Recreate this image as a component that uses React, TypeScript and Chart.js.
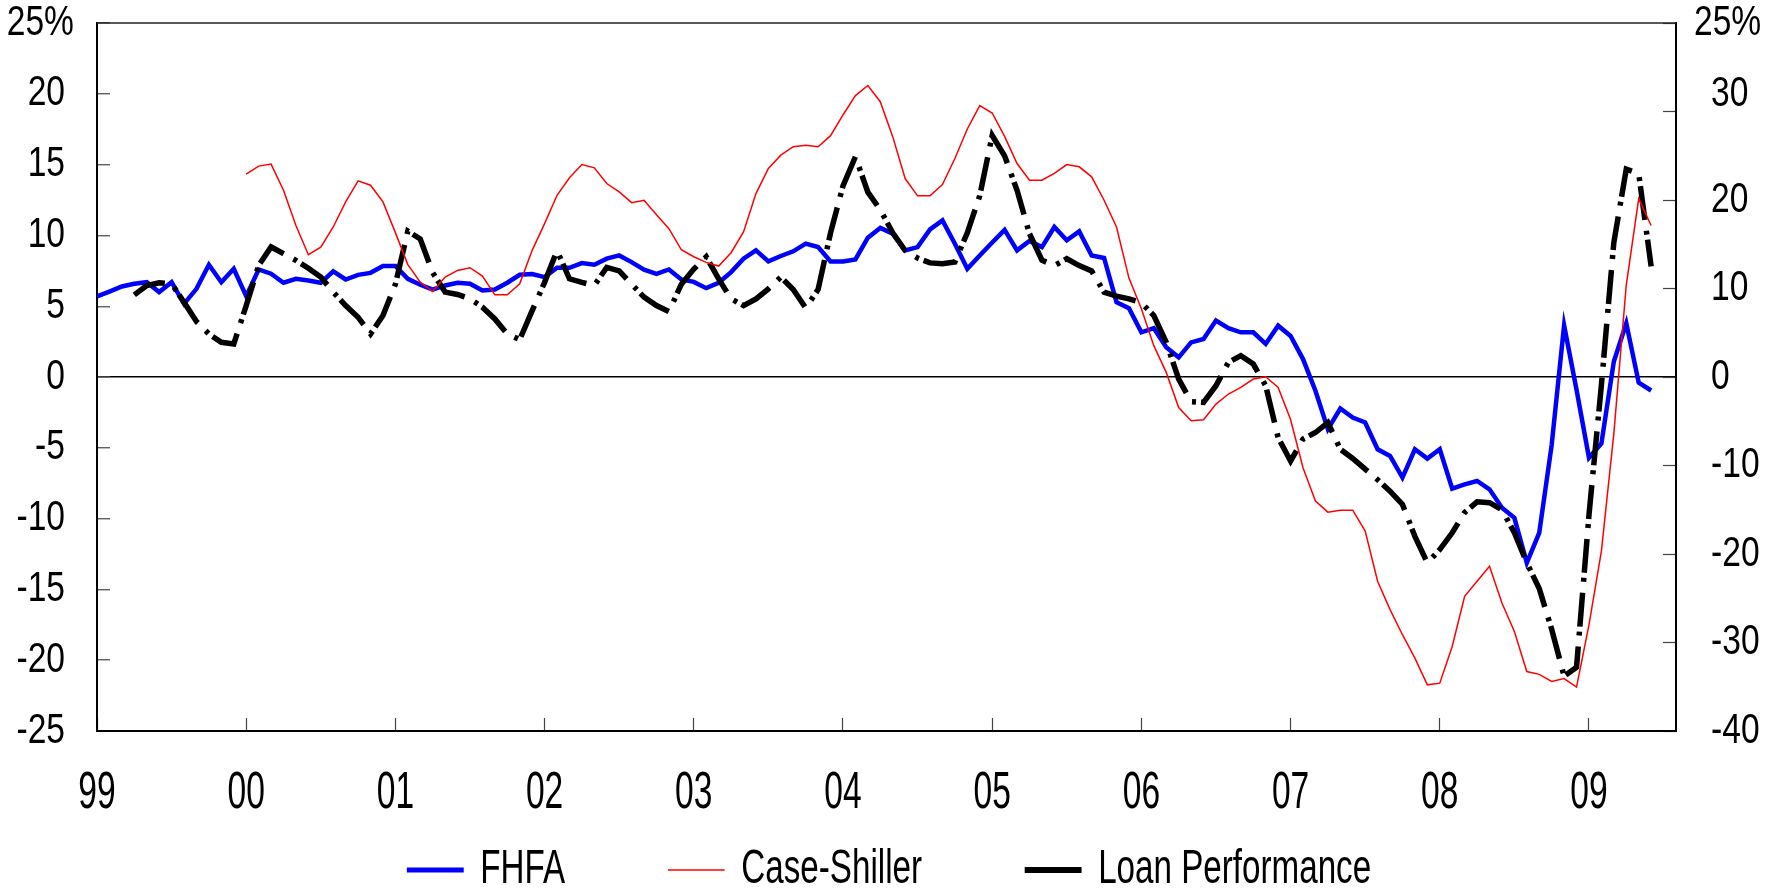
import React, { useEffect, useRef } from "react";
import { Chart, registerables, LinearScale } from "chart.js";

// Linear scale whose tick labels can be condensed / stretched (the reference uses a tall condensed face)
class StretchLinearScale extends LinearScale {
  static id = "stretchLinear";
  drawLabels(chartArea: any) {
    const opts: any = this.options;
    const st = opts.labelStretch || {};
    const sx = st.x ?? 1;
    const sy = st.y ?? 1;
    const dx = st.dx ?? 0;
    const dy = st.dy ?? 0;
    const offsets = st.offsets || {};
    const ctx = this.ctx;
    const items: any[] = (this as any).getLabelItems(chartArea);
    for (const item of items) {
      const o = item.options;
      const text = Array.isArray(item.label) ? item.label.join(" ") : String(item.label);
      const off = offsets[text] || [0, 0];
      ctx.save();
      ctx.translate(o.translation[0] + dx + off[0], o.translation[1] + dy + off[1]);
      if (o.rotation) ctx.rotate(o.rotation);
      ctx.scale(sx, sy);
      ctx.font = item.font.string;
      ctx.fillStyle = o.color;
      ctx.textAlign = o.textAlign;
      ctx.textBaseline = o.textBaseline;
      ctx.fillText(text, 0, item.textOffset);
      ctx.restore();
    }
  }
}

Chart.register(...registerables, StretchLinearScale);

// Monthly observations, index 0 = Jan 1999
const YEAR_LABELS = ["99", "00", "01", "02", "03", "04", "05", "06", "07", "08", "09"];
const X_MIN = 0;
const X_MAX = 127;

const FHFA_START = 0;
const FHFA = [
  5.69, 6.04, 6.4, 6.59, 6.7, 6.0, 6.7, 5.17, 6.23, 7.93, 6.7, 7.65,
  5.71, 7.6, 7.3, 6.66, 6.94, 6.82, 6.66, 7.46, 6.89, 7.22, 7.36, 7.84,
  7.84, 6.94, 6.52, 6.18, 6.47, 6.66, 6.59, 6.12, 6.18, 6.66, 7.22, 7.27,
  7.06, 7.72, 7.72, 8.05, 7.93, 8.36, 8.59, 8.12, 7.58, 7.29, 7.6, 6.89,
  6.72, 6.28, 6.66, 7.41, 8.36, 8.95, 8.17, 8.55, 8.88, 9.42, 9.18, 8.17,
  8.17, 8.31, 9.84, 10.53, 10.13, 8.95, 9.18, 10.43, 11.07, 9.42, 7.65, 8.59,
  9.5, 10.4, 8.95, 9.61, 9.18, 10.6, 9.66, 10.29, 8.59, 8.41, 5.29, 4.86,
  3.16, 3.45, 2.1, 1.39, 2.45, 2.69, 3.99, 3.45, 3.16, 3.16, 2.34, 3.63,
  2.9, 1.27, -0.97, -3.68, -2.22, -2.86, -3.21, -5.1, -5.57, -7.1, -5.1, -5.76,
  -5.1, -7.88, -7.58, -7.34, -7.93, -9.23, -9.94, -13.12, -11.0, -4.8, 3.65, -0.9,
  -5.7, -4.7, 1.1, 3.8, -0.4, -0.95,
];

const CASE_SHILLER_START = 12;
const CASE_SHILLER = [
  14.33, 14.9, 15.04, 13.2, 10.7, 8.64, 9.18, 10.6, 12.37, 13.86, 13.55, 12.37,
  10.2, 7.94, 6.7, 6.04, 7.06, 7.53, 7.72, 7.13, 5.81, 5.81, 6.59, 8.95,
  10.84, 12.84, 14.07, 15.01, 14.78, 13.67, 13.08, 12.32, 12.49, 11.47, 10.48, 8.99,
  8.5, 8.1, 7.84, 8.78, 10.25, 12.96, 14.73, 15.67, 16.27, 16.38, 16.27, 17.05,
  18.51, 19.88, 20.59, 19.45, 16.98, 14.02, 12.8, 12.8, 13.6, 15.44, 17.52, 19.17,
  18.65, 17.0, 15.08, 13.9, 13.9, 14.38, 15.01, 14.85, 14.14, 12.49, 10.6, 6.99,
  4.82, 2.22, 0.33, -2.15, -3.09, -3.02, -1.91, -1.2, -0.73, -0.14, 0.02, -0.73,
  -3.0, -6.4, -8.76, -9.54, -9.4, -9.4, -10.88, -14.42, -16.43, -18.2, -19.85, -21.74,
  -21.62, -19.03, -15.49, -14.42, -13.36, -15.96, -17.97, -20.8, -21.0, -21.5, -21.3, -21.9,
  -17.5, -12.3, -4.0, 6.5, 12.6, 10.7,
];

// right-hand axis
const LOAN_PERFORMANCE_START = 3;
const LOAN_PERFORMANCE = [
  9.29, 10.35, 10.65, 10.54, 8.46, 6.27, 4.87, 3.93, 3.74,
  8.08, 12.6, 14.7, 13.94, 13.18, 12.3, 11.3, 9.6, 8.08, 6.76, 4.87, 6.95,
  10.5, 16.5, 15.6, 11.8, 9.6, 9.33, 8.84, 7.9, 6.57, 4.87, 4.23, 7.51,
  10.7, 14.3, 11.1, 10.7, 10.35, 12.4, 12.0, 10.5, 9.03, 8.08, 7.4, 10.5,
  12.2, 13.6, 11.1, 8.84, 8.08, 8.84, 9.97, 11.3, 9.9, 7.8, 9.9, 16.3,
  21.6, 24.9, 20.9, 18.9, 16.3, 14.3, 13.45, 12.9, 12.8, 13.0, 16.3, 20.5,
  27.3, 25.0, 21.1, 16.2, 13.2, 12.6, 13.37, 12.6, 12.0, 9.6, 9.14, 8.84,
  8.39, 6.95, 3.93, -0.23, -2.8, -2.87, -0.98, 1.66, 2.42, 1.47, -0.98, -6.84,
  -9.5, -7.0, -6.27, -5.14, -8.16, -9.2, -10.4, -11.6, -12.9, -14.4, -18.0, -21.0,
  -19.5, -17.6, -15.3, -14.1, -14.2, -15.0, -17.6, -21.0, -23.9, -28.5, -33.8, -32.8,
  -15.6, -0.9, 15.2, 23.5, 23.0, 12.5,
];

const LEFT_TOP_LABEL = "25%";
const RIGHT_TOP_LABEL = "25%";

const FONT = "'Liberation Sans', Arial, sans-serif";
const TICK_FONT_SIZE = 42;
const LEGEND_FONT_SIZE = 42;
const LEGEND_PADDING = 130;
const LEGEND_SX = 0.79;
const LEGEND_SY = 1.13;
const LEGEND_CENTER_Y = 870;

const toPoints = (values: number[], start: number) =>
  values.map((y, i) => ({ x: start + i, y }));

const frameTop = {
  id: "frameTop",
  afterDraw(chart: any) {
    const { ctx, chartArea: a } = chart;
    ctx.save();
    ctx.strokeStyle = "#222";
    ctx.lineWidth = 1.5;
    ctx.beginPath();
    ctx.moveTo(a.left, a.top);
    ctx.lineTo(a.right, a.top);
    ctx.stroke();
    ctx.restore();
  },
};

// condenses the legend horizontally / stretches it vertically around its centre
const legendStretch = {
  id: "legendStretch",
  beforeDraw(chart: any) {
    const lg = chart.legend;
    if (!lg || lg.__stretched) return;
    const orig = lg.draw;
    lg.draw = function (...args: any[]) {
      const ctx = chart.ctx;
      const cyOrig = lg.top + LEGEND_PADDING + LEGEND_FONT_SIZE / 2;
      const cx = (lg.left + lg.right) / 2;
      ctx.save();
      ctx.translate(cx, LEGEND_CENTER_Y);
      ctx.scale(LEGEND_SX, LEGEND_SY);
      ctx.translate(-cx, -cyOrig);
      orig.apply(lg, args);
      ctx.restore();
    };
    lg.__stretched = true;
  },
};

export default function App() {
  const ref = useRef<HTMLCanvasElement | null>(null);

  useEffect(() => {
    document.body.style.margin = "0";
    if (!ref.current) return;
    const chart = new Chart(ref.current, {
      type: "line",
      data: {
        datasets: [
          {
            label: "FHFA",
            data: toPoints(FHFA, FHFA_START),
            borderColor: "#0000FF",
            backgroundColor: "#0000FF",
            borderWidth: 4.5,
            pointRadius: 0,
            yAxisID: "y",
            order: 3,
          },
          {
            label: "Case-Shiller",
            data: toPoints(CASE_SHILLER, CASE_SHILLER_START),
            borderColor: "#FF0000",
            backgroundColor: "#FF0000",
            borderWidth: 1.5,
            pointRadius: 0,
            yAxisID: "y",
            order: 1,
          },
          {
            label: "Loan Performance",
            data: toPoints(LOAN_PERFORMANCE, LOAN_PERFORMANCE_START),
            borderColor: "#000000",
            backgroundColor: "#000000",
            borderWidth: 5.5,
            borderDash: [34, 11, 4, 5],
            pointRadius: 0,
            yAxisID: "y1",
            order: 2,
          },
        ],
      },
      options: {
        animation: false,
        responsive: true,
        maintainAspectRatio: false,
        layout: { padding: { top: 0, left: 0, right: 0, bottom: -35 } },
        plugins: {
          tooltip: { enabled: false },
          legend: {
            position: "bottom",
            labels: {
              usePointStyle: true,
              pointStyle: "line",
              pointStyleWidth: 72,
              padding: LEGEND_PADDING,
              color: "#000",
              font: { family: FONT, size: LEGEND_FONT_SIZE },
              sort: (a: any, b: any) => a.datasetIndex - b.datasetIndex,
            },
          },
        },
        scales: {
          x: {
            type: "stretchLinear",
            min: X_MIN,
            max: X_MAX,
            afterFit: (s: any) => {
              s.height = 11;
            },
            labelStretch: { x: 0.8, y: 1.25, dx: 0, dy: 44.5 },
            ticks: {
              stepSize: 12,
              includeBounds: false,
              autoSkip: false,
              maxRotation: 0,
              padding: 0,
              color: "#000",
              font: { family: FONT, size: TICK_FONT_SIZE },
              callback: (v: any) => YEAR_LABELS[Math.round(Number(v) / 12)] ?? "",
            },
            grid: {
              drawOnChartArea: false,
              drawTicks: true,
              tickLength: -13,
              tickColor: "#444",
              tickWidth: 1.2,
            },
            border: { display: true, color: "#000", width: 2 },
          } as any,
          y: {
            type: "stretchLinear",
            position: "left",
            min: -25,
            max: 25,
            afterFit: (s: any) => {
              s.width = 97;
            },
            labelStretch: { x: 0.8, y: 1, dx: -45, dy: 0, offsets: { "25%": [9, 0] } },
            ticks: {
              stepSize: 5,
              padding: 0,
              color: "#000",
              font: { family: FONT, size: TICK_FONT_SIZE, lineHeight: 1.1 },
              callback: (v: any) => (Number(v) === 25 ? LEFT_TOP_LABEL : String(v)),
            },
            grid: {
              drawOnChartArea: true,
              color: (c: any) => (c.tick && c.tick.value === 0 ? "#000" : "rgba(0,0,0,0)"),
              lineWidth: 1.5,
              tickColor: "#444",
              tickLength: -13,
              tickWidth: 1.2,
            },
            border: { display: true, color: "#000", width: 2 },
          } as any,
          y1: {
            type: "stretchLinear",
            position: "right",
            min: -40,
            max: 40,
            afterFit: (s: any) => {
              s.width = 102;
            },
            labelStretch: {
              x: 0.8,
              y: 1,
              dx: 48,
              dy: 0,
              offsets: { "25%": [-17, 0], "30": [0, -17] },
            },
            ticks: {
              stepSize: 10,
              padding: 0,
              color: "#000",
              font: { family: FONT, size: TICK_FONT_SIZE, lineHeight: 1.1 },
              callback: (v: any) => (Number(v) === 40 ? RIGHT_TOP_LABEL : String(v)),
            },
            grid: {
              drawOnChartArea: false,
              tickColor: "#444",
              tickLength: -13,
              tickWidth: 1.2,
            },
            border: { display: true, color: "#000", width: 2 },
          } as any,
        },
      } as any,
      plugins: [frameTop, legendStretch],
    });
    return () => chart.destroy();
  }, []);

  return (
    <div style={{ width: 1778, height: 889, position: "relative" }}>
      <canvas ref={ref} />
    </div>
  );
}
